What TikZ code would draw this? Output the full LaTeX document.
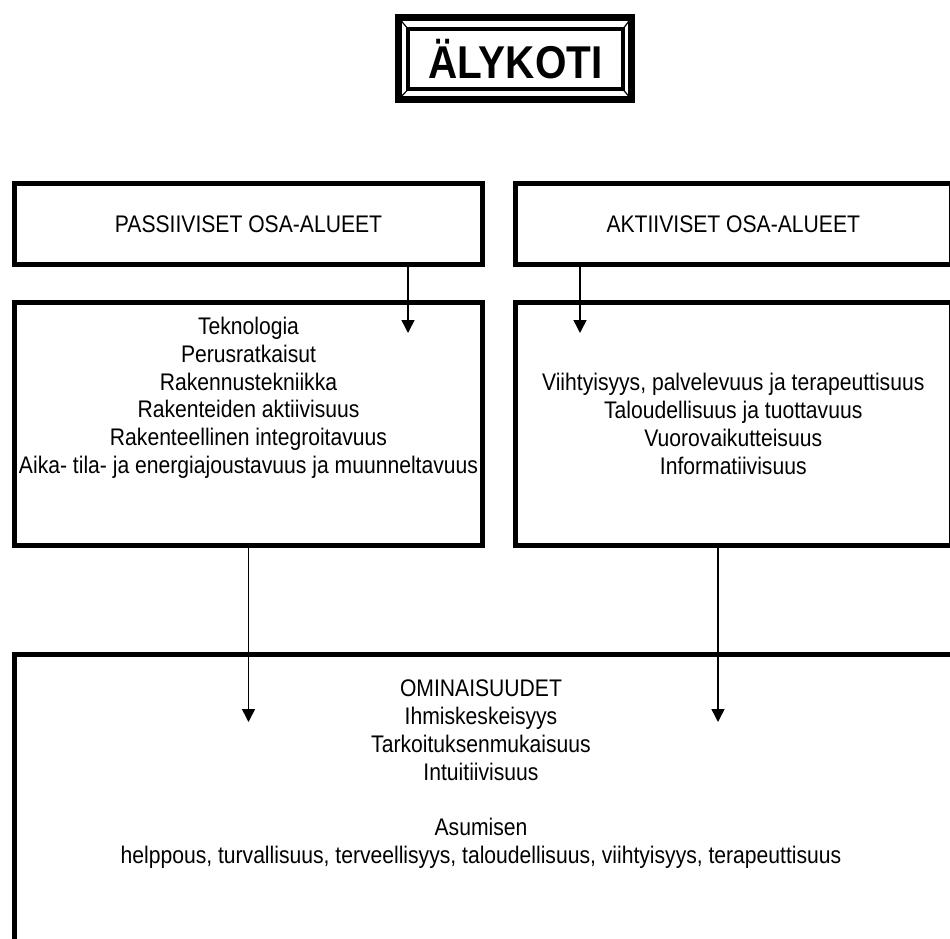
\documentclass[tikz,border=0pt]{standalone}
\usepackage{fontspec}
\setmainfont{Liberation Sans}[FakeStretch=0.88]
\usetikzlibrary{arrows.meta, positioning}

\begin{document}
\begin{tikzpicture}[x=1pt, y=-1pt, >={Triangle[width=13pt,length=13pt]},
    box/.style={draw, line width=5pt, fill=white, inner sep=0pt, outer sep=0pt},
    txt/.style={font=\fontsize{24}{27.8}\selectfont, align=center, inner sep=0pt},
    arr/.style={->, line width=1.5pt}]
    \useasboundingbox (0,0) rectangle (950,939);

    % Otsikko
    \node[font=\bfseries\fontsize{46}{46}\selectfont, draw, line width=4pt, minimum width=215pt,
          minimum height=60.5pt, inner sep=0pt, outer sep=0pt] (title) at (515.5,59.25) {ÄLYKOTI\hspace{6pt}};
    \draw[line width=7pt] ([shift={(-9.5,10)}]title.south west) rectangle ([shift={(8.5,-11.5)}]title.north east);
    \draw[line width=1.2pt] (title.north west) -- ([shift={(-9.5,-11.5)}]title.north west);
    \draw[line width=1.2pt] (title.north east) -- ([shift={(8.5,-11.5)}]title.north east);
    \draw[line width=1.2pt] (title.south west) -- ([shift={(-9.5,10)}]title.south west);
    \draw[line width=1.2pt] (title.south east) -- ([shift={(8.5,10)}]title.south east);

    % Osa-alueet
    \node[box, txt, minimum width=468pt, minimum height=81pt] (passbox) at (248.5,224) {PASSIIVISET OSA-ALUEET};
    \node[box, txt, minimum width=435.5pt, minimum height=81pt] (aktbox) at (733.25,224) {AKTIIVISET OSA-ALUEET};

    % Sisällöt
    \node[box, minimum width=468pt, minimum height=243pt] (passlist) at (248.5,424) {};
    \node[txt, anchor=north] (passitems) at ([yshift=-14.5pt]passlist.north)
        {Teknologia\\Perusratkaisut\\Rakennustekniikka\\Rakenteiden aktiivisuus\\
         Rakenteellinen integroitavuus\\Aika- tila- ja energiajoustavuus ja muunneltavuus};
    \node[box, txt, minimum width=435.5pt, minimum height=243pt] (aktlist) at (733.25,424)
        {Viihtyisyys, palvelevuus ja terapeuttisuus\\Taloudellisuus ja tuottavuus\\
         Vuorovaikutteisuus\\Informatiivisuus};

    % Ominaisuudet
    \node[box, minimum width=945pt, minimum height=320pt, anchor=north west] (ominbox) at (14.5,654) {};
    \node[txt, anchor=north] (ominitems) at (481,680)
        {OMINAISUUDET\\Ihmiskeskeisyys\\Tarkoituksenmukaisuus\\Intuitiivisuus\\[27.8pt]
         Asumisen\\helppous, turvallisuus, terveellisyys, taloudellisuus, viihtyisyys, terapeuttisuus};

    % Nuolet
    \coordinate (passtip) at (408,333);
    \coordinate (akttip) at (580,333);
    \coordinate (listtipL) at (248.5,722);
    \coordinate (listtipR) at (718,722);
    \draw[arr] (passtip |- passbox.south) -- (passtip);
    \draw[arr] (akttip |- aktbox.south) -- (akttip);
    \draw[arr] (passlist.south) -- (listtipL);
    \draw[arr] (listtipR |- aktlist.south) -- (listtipR);
\end{tikzpicture}
\end{document}
